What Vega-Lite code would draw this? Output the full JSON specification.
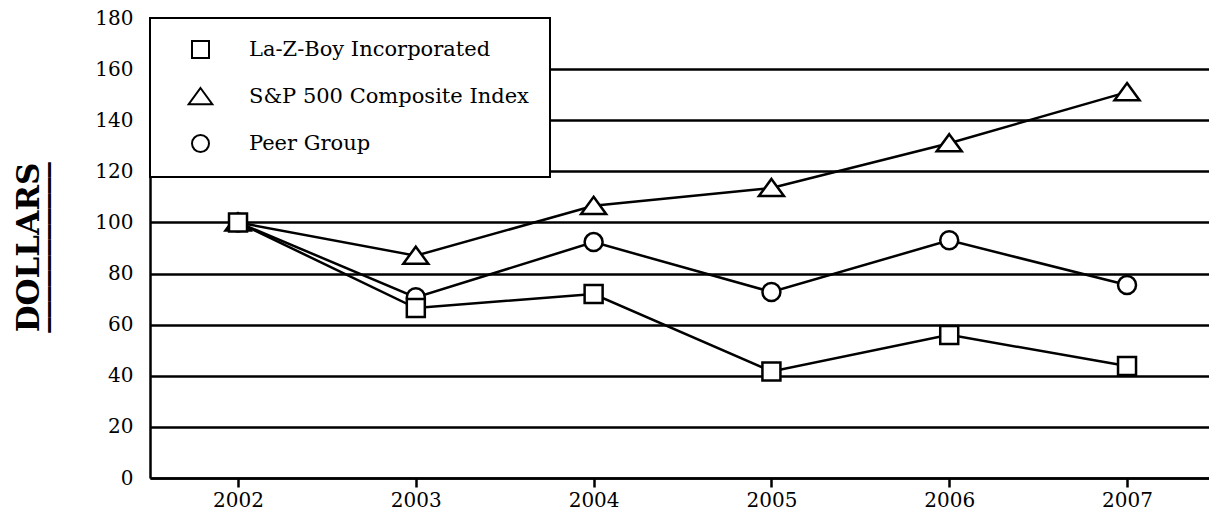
{
  "$schema": "https://vega.github.io/schema/vega-lite/v6.json",
  "width": 1059,
  "height": 460,
  "autosize": {"type": "none"},
  "padding": {"left": 150, "top": 18, "right": 0, "bottom": 45},
  "background": "white",
  "config": {"view": {"stroke": null}, "font": "DejaVu Serif", "legend": {"strokeWidth": 2}},
  "data": {
    "values": [
      {"series": "S&P 500 Composite Index", "year": 2002, "value": 100},
      {"series": "S&P 500 Composite Index", "year": 2003, "value": 87},
      {"series": "S&P 500 Composite Index", "year": 2004, "value": 106.5},
      {"series": "S&P 500 Composite Index", "year": 2005, "value": 113.5},
      {"series": "S&P 500 Composite Index", "year": 2006, "value": 131},
      {"series": "S&P 500 Composite Index", "year": 2007, "value": 151},
      {"series": "Peer Group", "year": 2002, "value": 100},
      {"series": "Peer Group", "year": 2003, "value": 70.7},
      {"series": "Peer Group", "year": 2004, "value": 92.3},
      {"series": "Peer Group", "year": 2005, "value": 72.8},
      {"series": "Peer Group", "year": 2006, "value": 93},
      {"series": "Peer Group", "year": 2007, "value": 75.5},
      {"series": "La-Z-Boy Incorporated", "year": 2002, "value": 100},
      {"series": "La-Z-Boy Incorporated", "year": 2003, "value": 66.5},
      {"series": "La-Z-Boy Incorporated", "year": 2004, "value": 72},
      {"series": "La-Z-Boy Incorporated", "year": 2005, "value": 41.7},
      {"series": "La-Z-Boy Incorporated", "year": 2006, "value": 56},
      {"series": "La-Z-Boy Incorporated", "year": 2007, "value": 43.8}
    ]
  },
  "encoding": {
    "x": {
      "field": "year",
      "type": "quantitative",
      "scale": {"domain": [2001.505, 2007.461], "nice": false, "zero": false},
      "axis": {
        "values": [2002, 2003, 2004, 2005, 2006, 2007],
        "format": "d",
        "grid": false,
        "title": null,
        "domainColor": "black",
        "domainWidth": 2.5,
        "tickColor": "black",
        "tickWidth": 2.5,
        "tickSize": 9,
        "labelFont": "DejaVu Serif",
        "labelFontSize": 20,
        "labelColor": "black",
        "labelPadding": 3,
        "labelFlush": false
      }
    },
    "y": {
      "field": "value",
      "type": "quantitative",
      "scale": {"domain": [0, 180], "nice": false, "zero": true},
      "axis": {
        "values": [0, 20, 40, 60, 80, 100, 120, 140, 160, 180],
        "title": ["DOLLARS", "___________"],
        "titleFont": "DejaVu Serif",
        "titleFontWeight": "bold",
        "titleFontSize": 31,
        "titleLineHeight": 4,
        "titleColor": "black",
        "titleX": -112,
        "titleY": 229,
        "titleAlign": "center",
        "titleBaseline": "alphabetic",
        "titleAngle": 270,
        "ticks": false,
        "labelPadding": 17,
        "labelFont": "DejaVu Serif",
        "labelFontSize": 20,
        "labelColor": "black",
        "labelFlush": false,
        "domainColor": "black",
        "domainWidth": 2.5,
        "gridColor": "black",
        "gridWidth": 2.5,
        "gridOpacity": {"condition": {"test": "datum.value >= 180", "value": 0}, "value": 1}
      }
    }
  },
  "layer": [
    {
      "mark": {"type": "line", "color": "black", "strokeWidth": 2.5},
      "encoding": {"detail": {"field": "series"}}
    },
    {
      "mark": {"type": "point", "filled": true, "fill": "white", "stroke": "black", "strokeWidth": 2.5, "size": 324, "opacity": 1},
      "encoding": {
        "shape": {
          "field": "series",
          "type": "nominal",
          "scale": {
            "domain": ["La-Z-Boy Incorporated", "S&P 500 Composite Index", "Peer Group"],
            "range": ["square", "M0,-1.0L1.39,0.9L-1.39,0.9Z", "circle"]
          },
          "legend": {
            "title": null,
            "orient": "top-left",
            "offset": 0,
            "padding": 21,
            "fillColor": "white",
            "strokeColor": "black",
            "symbolSize": 289,
            "symbolStrokeWidth": 2,
            "symbolOffset": 19,
            "labelFont": "DejaVu Serif",
            "labelFontSize": 21,
            "labelColor": "black",
            "labelOffset": 38,
            "rowPadding": 22,
            "labelLimit": 0
          }
        }
      }
    }
  ]
}
